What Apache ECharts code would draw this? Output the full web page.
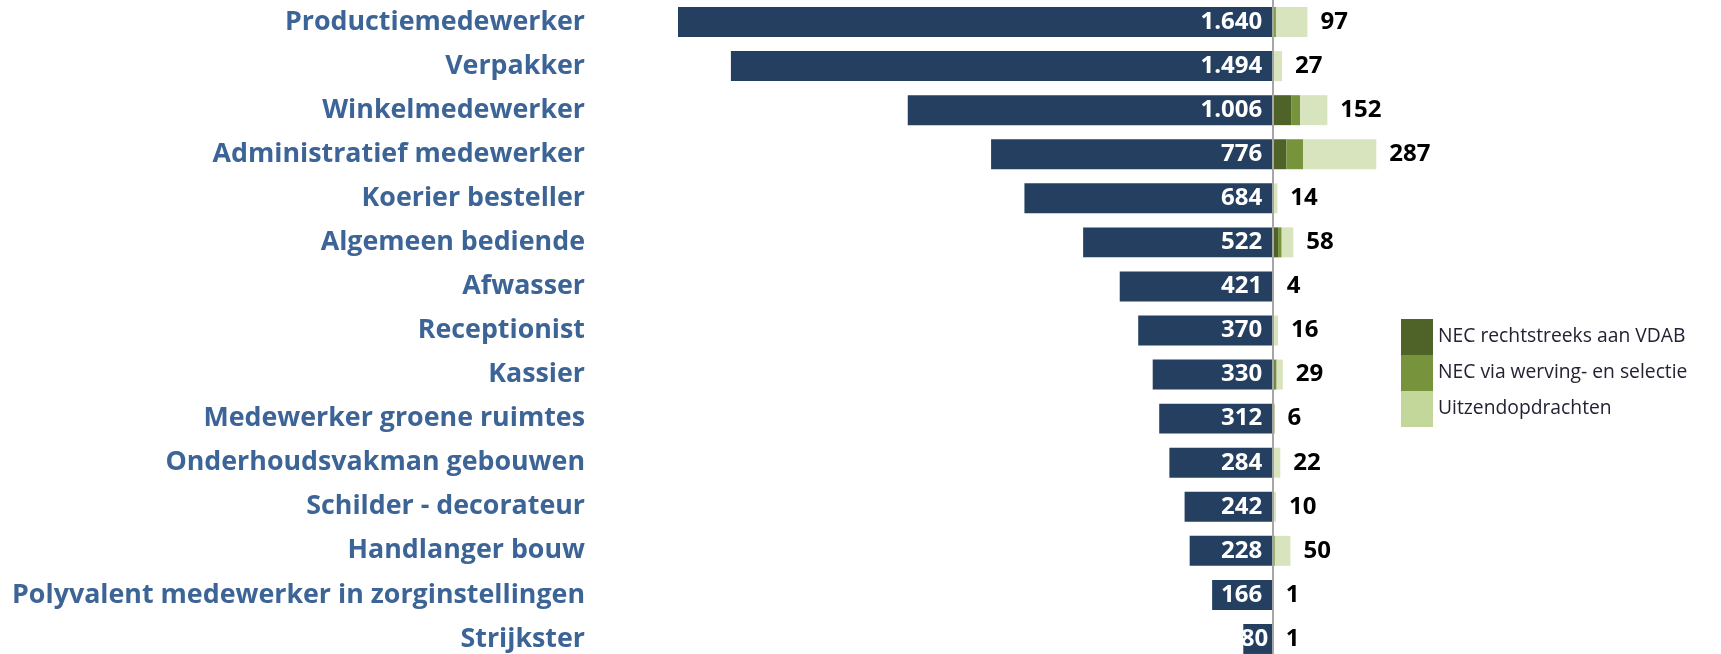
<!DOCTYPE html>
<html>
<head>
<meta charset="utf-8">
<script src="https://cdn.jsdelivr.net/npm/echarts@6/dist/echarts.min.js"></script>
<style>
  html, body { margin: 0; padding: 0; background: #fff; }
  #chart { width: 1721px; height: 654px; }
</style>
</head>
<body>
<div id="chart"></div>
<script>
// beroepen, van boven naar onder
const beroepen = [
    'Productiemedewerker', 'Verpakker', 'Winkelmedewerker', 'Administratief medewerker',
    'Koerier besteller', 'Algemeen bediende', 'Afwasser', 'Receptionist', 'Kassier',
    'Medewerker groene ruimtes', 'Onderhoudsvakman gebouwen', 'Schilder - decorateur',
    'Handlanger bouw', 'Polyvalent medewerker in zorginstellingen', 'Strijkster'
];
// linkerkant (donkerblauw)
const vacaturesLinks = [1640, 1494, 1006, 776, 684, 522, 421, 370, 330, 312, 284, 242, 228, 166, 80];
// rechterkant, gestapeld
const necRechtstreeks = [5, 0, 52, 39, 0, 16, 0, 0, 7, 4, 1, 0, 3, 0, 0];
const necWerving = [5, 1, 25, 46, 1, 10, 0, 2, 5, 2, 2, 0, 4, 0, 0];
const uitzend = [87, 26, 75, 202, 13, 32, 4, 14, 17, 0, 19, 10, 43, 1, 1];
const totaalRechts = [97, 27, 152, 287, 14, 58, 4, 16, 29, 6, 22, 10, 50, 1, 1];

const fmt = v => String(v).replace(/\B(?=(\d{3})+(?!\d))/g, '.');

const mychart = echarts.init(document.getElementById('chart'));
const font = '"Open Sans", "Noto Sans", sans-serif';

// te smalle balken: label dichter tegen de as, zoals in Excel
const linksData = vacaturesLinks.map(v => v < 100
    ? { value: -v, label: { distance: 4 } }
    : -v);

const option = {
    animation: false,
    grid: { left: 678, width: 703, top: 0, height: 661, outerBoundsMode: 'none' },
    xAxis: {
        type: 'value',
        min: -1640,
        max: 300,
        show: false
    },
    yAxis: {
        type: 'category',
        data: beroepen,
        inverse: true,
        axisLine: { show: false },
        axisTick: { show: false },
        axisLabel: {
            margin: 93,
            fontFamily: font,
            fontWeight: 'bold',
            fontSize: 26.8,
            color: '#3C6496'
        }
    },
    legend: {
        orient: 'vertical',
        left: 1401,
        top: 319,
        padding: 0,
        itemWidth: 32,
        itemHeight: 36,
        itemGap: 0,
        icon: 'rect',
        textStyle: { fontFamily: font, fontSize: 19.3, color: '#222233' },
        data: [
            { name: 'NEC rechtstreeks aan VDAB', itemStyle: { color: '#4F6228' } },
            { name: 'NEC via werving- en selectie', itemStyle: { color: '#77933C' } },
            { name: 'Uitzendopdrachten', itemStyle: { color: '#C4D79B' } }
        ]
    },
    series: [
        {
            name: 'Vacatures',
            type: 'bar',
            stack: 'totaal',
            barCategoryGap: '32%',
            data: linksData,
            itemStyle: { color: '#243F60' },
            label: {
                show: true,
                position: 'insideRight',
                distance: 10,
                fontFamily: font,
                fontWeight: 'bold',
                fontSize: 24,
                color: '#fff',
                formatter: p => fmt(-p.value)
            },
            markLine: {
                silent: true,
                symbol: 'none',
                label: { show: false },
                lineStyle: { color: '#A6A6A6', type: 'solid', width: 2 },
                data: [{ xAxis: 0 }]
            }
        },
        {
            name: 'NEC rechtstreeks aan VDAB',
            type: 'bar',
            stack: 'totaal',
            data: necRechtstreeks,
            itemStyle: { color: '#4F6228' }
        },
        {
            name: 'NEC via werving- en selectie',
            type: 'bar',
            stack: 'totaal',
            data: necWerving,
            itemStyle: { color: '#77933C' }
        },
        {
            name: 'Uitzendopdrachten',
            type: 'bar',
            stack: 'totaal',
            data: uitzend,
            itemStyle: { color: '#D7E4BD' },
            label: {
                show: true,
                position: 'right',
                distance: 13,
                fontFamily: font,
                fontWeight: 'bold',
                fontSize: 24,
                color: '#000',
                formatter: p => fmt(totaalRechts[p.dataIndex])
            }
        }
    ]
};

mychart.setOption(option);
</script>
</body>
</html>
